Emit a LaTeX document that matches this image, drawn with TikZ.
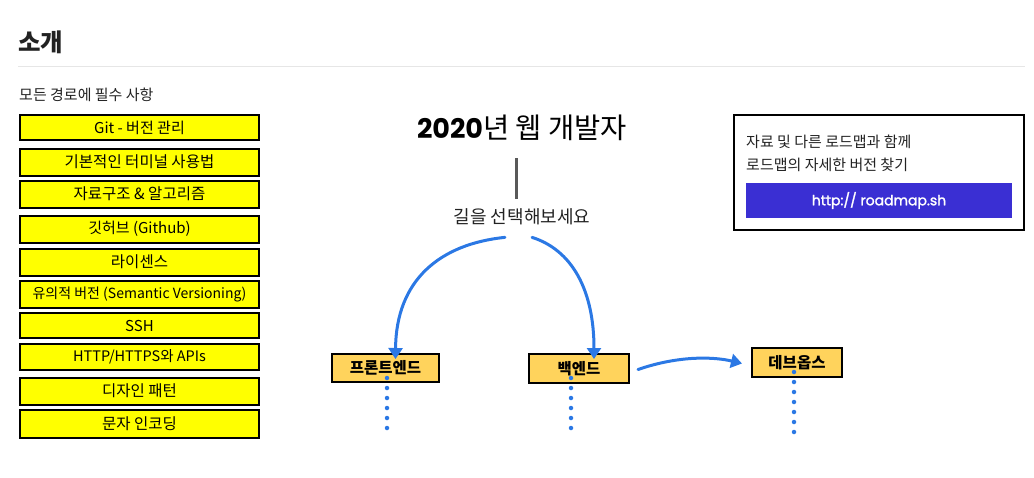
\documentclass[tikz,border=0pt]{standalone}
\usepackage{fontspec}
\setmainfont{Noto Sans CJK KR}
\newfontfamily\popfont{Poppins}
\newfontfamily\popsemi[FakeBold=1.6]{Poppins}
\usetikzlibrary{arrows.meta}
\definecolor{ybox}{HTML}{FFFF00}
\definecolor{obox}{HTML}{FFD35C}
\definecolor{arrowblue}{HTML}{2B78E4}
\definecolor{btnblue}{HTML}{3A2FD3}
\definecolor{rulegray}{HTML}{E6E6E6}
\definecolor{textdark}{HTML}{222222}
\begin{document}
\begin{tikzpicture}[x=1pt,y=-1pt,
  reqbox/.style={draw=black, line width=2pt, fill=ybox, minimum width=239pt, inner sep=0pt,
    font=\fontsize{15.5}{17}\selectfont, text=black},
  topicbox/.style={draw=black, line width=2pt, fill=obox, inner sep=0pt,
    font=\fontsize{15.5}{17}\selectfont\bfseries, text=black},
  bluearrow/.style={draw=arrowblue, line width=3pt, line cap=round,
    -{Triangle[length=11pt,width=14pt]}},
  dotline/.style={draw=arrowblue, line width=4.5pt, line cap=round, dash pattern=on 0pt off 10pt},
  plain/.style={inner sep=0pt, text=textdark}
]
\useasboundingbox (0,0) rectangle (1034,477);

% heading
\node[plain, anchor=west, font=\fontsize{24.5}{28}\selectfont\bfseries] (head) at (18,42) {소개};
\draw[rulegray, line width=1pt] (18,66) -- (1025,66);
\node[plain, anchor=west, font=\fontsize{15}{17}\selectfont] (sub) at (19,95) {모든 경로에 필수 사항};

% required list
\node[reqbox, minimum height=25pt, font=\fontsize{15}{17}\selectfont] (b1) at (139.5,127.5) {Git - 버전 관리};
\node[reqbox, minimum height=27pt] (b2) at (139.5,162) {기본적인 터미널 사용법};
\node[reqbox, minimum height=27pt] (b3) at (139.5,194) {자료구조 \& 알고리즘};
\node[reqbox, minimum height=27pt, font=\fontsize{15}{17}\selectfont] (b4) at (139.5,229) {깃허브 (Github)};
\node[reqbox, minimum height=27pt] (b5) at (139.5,262) {라이센스};
\node[reqbox, minimum height=27pt, font=\fontsize{14}{16}\selectfont] (b6) at (139.5,294) {유의적 버전 (Semantic Versioning)};
\node[reqbox, minimum height=25pt, font=\fontsize{15}{17}\selectfont] (b7) at (139.5,325.5) {SSH};
\node[reqbox, minimum height=26pt, font=\fontsize{14.5}{17}\selectfont] (b8) at (139.5,357) {HTTP/HTTPS와 APIs};
\node[reqbox, minimum height=27pt] (b9) at (139.5,391) {디자인 패턴};
\node[reqbox, minimum height=28pt] (b10) at (139.5,423.5) {문자 인코딩};

% title
\node[plain, font=\fontsize{28.5}{32}\selectfont, text=black] (title) at (522,128) {{\popfont\bfseries\fontsize{27}{32}\selectfont 2020}년 웹 개발자};
\coordinate (stemtop) at (516,158);
\coordinate (stembot) at (516,199);
\draw[line width=3pt, draw=black!65] (stemtop) -- (stembot);
\node[plain, font=\fontsize{18}{20}\selectfont] (choose) at (522,217) {길을 선택해보세요};

% topics
\node[topicbox, minimum width=107pt, minimum height=28pt] (fe) at (385.5,368) {프론트엔드};
\node[topicbox, minimum width=100pt, minimum height=29pt] (be) at (579,368.5) {백엔드};
\node[topicbox, minimum width=90pt, minimum height=29pt] (do) at (797,362.5) {데브옵스};

% arrows
\draw[bluearrow] ([xshift=-17pt,yshift=-12pt]choose.south) .. controls (440,244) and (396,280) .. ([xshift=10pt,yshift=-6pt]fe.north);
\draw[bluearrow] ([xshift=10pt,yshift=-12pt]choose.south) .. controls (572,250) and (594,290) .. ([xshift=15pt,yshift=-6pt]be.north);
\draw[bluearrow] ([xshift=8pt,yshift=-1pt]be.east) .. controls (680,355) and (715,357) .. ([xshift=-9pt,yshift=-1pt]do.west);

% dotted continuations
\draw[dotline] ([xshift=1.5pt,yshift=5pt]fe.south) -- ++(0,50.1);
\draw[dotline] ([xshift=-8pt,yshift=6pt]be.south) -- ++(0,50.1);
\draw[dotline] ([xshift=-3pt,yshift=6pt]do.south) -- ++(0,60.1);

% info box
\node[draw=black, line width=2pt, minimum width=290pt, minimum height=115pt, inner sep=0pt] (info) at (879,172.5) {};
\node[plain, anchor=west, font=\fontsize{15}{17}\selectfont] (info1) at (746,142) {자료 및 다른 로드맵과 함께};
\node[plain, anchor=west, font=\fontsize{15}{17}\selectfont] (info2) at (746,165) {로드맵의 자세한 버전 찾기};
\node[fill=btnblue, minimum width=266pt, minimum height=35pt, inner sep=0pt, text=white,
  font=\popsemi\fontsize{14}{16}\selectfont] (btn) at (879,200.5) {http:// roadmap.sh};
\end{tikzpicture}
\end{document}
